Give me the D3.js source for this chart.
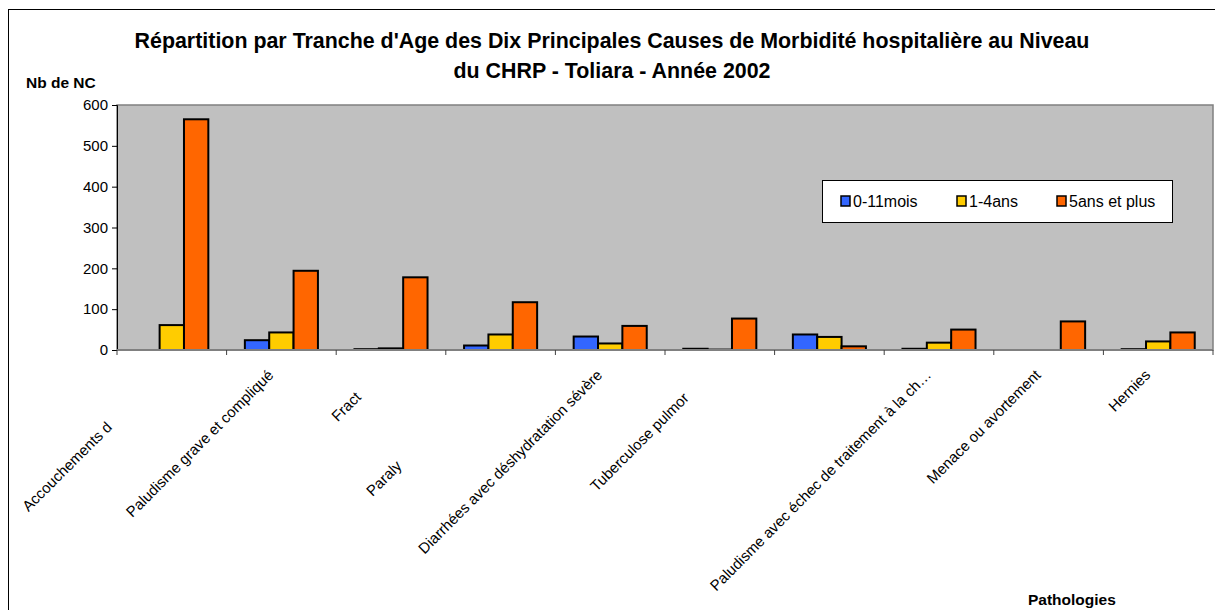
<!DOCTYPE html>
<html><head><meta charset="utf-8">
<script src="https://cdn.jsdelivr.net/npm/d3@7"></script>
<style>body{margin:0;background:#fff;}svg{display:block;font-family:"Liberation Sans",Arial,sans-serif;}</style>
</head><body><svg id="c" width="1215" height="610"></svg>
<script>
const categories = ["Accouchements d","Paludisme grave et compliqué","Fract","Paraly","Diarrhées avec déshydratation sévère","Tuberculose pulmor","","Paludisme avec échec de traitement à la ch…","Menace ou avortement","Hernies"];
const seriesNames = ["0-11mois","1-4ans","5ans et plus"];
const seriesColors = ["#3366FF","#FFCC00","#FF6600"];
const s0 = [0, 24, 2, 11, 33, 3, 38, 3, 0, 2];
const s1 = [61, 43, 4, 38, 16, 1, 32, 18, 0, 21];
const s2 = [565, 194, 178, 117, 59, 77, 9, 50, 70, 43];
const yTicks = [0,100,200,300,400,500,600];
const titleLines = ["Répartition par Tranche d'Age des Dix Principales Causes de Morbidité hospitalière au Niveau","du CHRP - Toliara - Année 2002"];

const svg = d3.select("#c");
svg.append("rect").attr("x",8.5).attr("y",9.5).attr("width",1230).attr("height",640).attr("fill","#fff").attr("stroke","#000").attr("stroke-width",1);

const L=117, R=1213, T=105, B=350;
const x = d3.scaleBand().domain(d3.range(categories.length)).range([L,R]).paddingInner(0).paddingOuter(0);
const inner = d3.scaleBand().domain(d3.range(3)).range([0,x.bandwidth()]).paddingOuter(0.75).paddingInner(0);
const y = d3.scaleLinear().domain([0,600]).range([B,T]);

svg.append("rect").attr("x",L).attr("y",T).attr("width",R-L).attr("height",B-T).attr("fill","#C0C0C0").attr("stroke","#808080").attr("stroke-width",1.5);

const series=[s0,s1,s2];
series.forEach((vals,si)=>{
  svg.append("g").selectAll("rect").data(vals.map((v,i)=>({v,i}))).join("rect")
    .filter(d=>d.v>0)
    .attr("x",d=>x(d.i)+inner(si))
    .attr("y",d=>y(d.v))
    .attr("width",inner.bandwidth())
    .attr("height",d=>B-y(d.v))
    .attr("fill",seriesColors[si])
    .attr("stroke","#000").attr("stroke-width",2);
});

const ya = svg.append("g").attr("transform",`translate(${L},0)`).call(d3.axisLeft(y).tickValues(yTicks).tickSize(5).tickPadding(4));
ya.select(".domain").attr("stroke","#000").attr("stroke-width",1);
ya.selectAll(".tick line").attr("stroke","#000");
ya.selectAll("text").attr("font-size",15).attr("fill","#000").attr("font-family","Liberation Sans, Arial, sans-serif");

const bounds = d3.range(categories.length+1).map(i=> i<categories.length ? x(i) : R);
svg.append("line").attr("x1",L).attr("x2",R).attr("y1",B).attr("y2",B).attr("stroke","#808080").attr("stroke-width",2);
svg.append("g").selectAll("line").data(bounds).join("line")
  .attr("x1",d=>d).attr("x2",d=>d).attr("y1",B).attr("y2",B+5).attr("stroke","#404040").attr("stroke-width",1);

const labelShift=[52,0,22,91,0,23,0,0,0,0];
svg.append("g").selectAll("text").data(categories).join("text")
  .attr("transform",(d,i)=>{const cx=x(i)+x.bandwidth()/2-7-labelShift[i]; const cy=B+26+labelShift[i]; return `translate(${cx},${cy}) rotate(-45)`;})
  .attr("text-anchor","end").attr("font-size",15).attr("fill","#000").text(d=>d);

svg.append("g").selectAll("text").data(titleLines).join("text")
  .attr("x",612).attr("y",(d,i)=>48+i*30).attr("text-anchor","middle")
  .attr("font-size",21.4).attr("font-weight","bold").text(d=>d);

svg.append("text").attr("x",26).attr("y",88).attr("font-size",15.5).attr("font-weight","bold").text("Nb de NC");
svg.append("text").attr("x",1028).attr("y",605).attr("font-size",15.5).attr("font-weight","bold").text("Pathologies");

const lg = svg.append("g");
lg.append("rect").attr("x",822.5).attr("y",180.5).attr("width",350).attr("height",42).attr("fill","#fff").attr("stroke","#000");
const lx=[841,957,1057];
seriesNames.forEach((n,i)=>{
  lg.append("rect").attr("x",lx[i]).attr("y",196).attr("width",9).attr("height",10).attr("fill",seriesColors[i]).attr("stroke","#000").attr("stroke-width",1.5);
  lg.append("text").attr("x",lx[i]+12).attr("y",207).attr("font-size",16).text(n);
});
</script></body></html>
